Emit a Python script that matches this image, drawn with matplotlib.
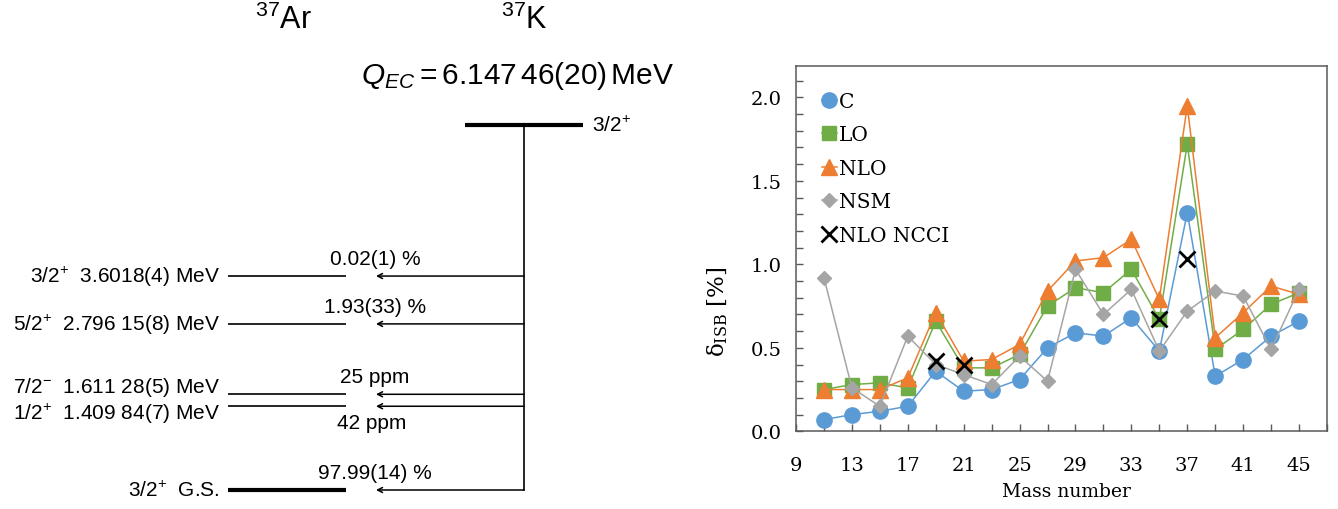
import matplotlib
matplotlib.use("Agg")
import matplotlib.pyplot as plt
from matplotlib.ticker import MultipleLocator, FixedLocator

# ---------------- data ----------------
# Left: 37K -> 37Ar decay scheme
parent_energy = 6.14746          # MeV (Q_EC)
parent_spin = "3/2$^{+}$"
level_energies = [3.6018, 2.79615, 1.61128, 1.40984, 0.0]
level_labels = ["3/2$^{+}$  3.6018(4) MeV",
                "5/2$^{+}$  2.796 15(8) MeV",
                "7/2$^{-}$  1.611 28(5) MeV",
                "1/2$^{+}$  1.409 84(7) MeV",
                "3/2$^{+}$  G.S."]
branch_labels = ["0.02(1) %", "1.93(33) %", "25 ppm", "42 ppm", "97.99(14) %"]

# Right: isospin-symmetry-breaking corrections
mass_number = [11, 13, 15, 17, 19, 21, 23, 25, 27, 29, 31, 33, 35, 37, 39, 41, 43, 45]
delta_C   = [0.07, 0.10, 0.12, 0.15, 0.36, 0.24, 0.25, 0.31, 0.50, 0.59, 0.57, 0.68, 0.48, 1.31, 0.33, 0.43, 0.57, 0.66]
delta_LO  = [0.25, 0.28, 0.29, 0.26, 0.66, 0.38, 0.38, 0.46, 0.75, 0.86, 0.83, 0.97, 0.67, 1.72, 0.49, 0.61, 0.76, 0.83]
delta_NLO = [0.25, 0.25, 0.25, 0.32, 0.71, 0.42, 0.43, 0.52, 0.84, 1.02, 1.04, 1.15, 0.79, 1.95, 0.56, 0.71, 0.87, 0.82]
delta_NSM = [0.92, 0.26, 0.15, 0.57, 0.40, 0.34, 0.28, 0.45, 0.30, 0.97, 0.70, 0.85, 0.48, 0.72, 0.84, 0.81, 0.49, 0.85]
ncci_mass = [19, 21, 35, 37]
delta_NCCI = [0.42, 0.40, 0.67, 1.03]

# ---------------- figure ----------------
W, H = 1338, 510
fig = plt.figure(figsize=(W / 100, H / 100), dpi=100)

plt.rcParams['mathtext.fontset'] = 'custom'
plt.rcParams['mathtext.rm'] = 'Liberation Sans'
plt.rcParams['mathtext.it'] = 'Liberation Sans:italic'
plt.rcParams['mathtext.bf'] = 'Liberation Sans:bold'

# ---- left: level scheme (x in layout units, y in MeV) ----
axL = fig.add_axes([0, 0, 690 / W, 1])
px_per_mev = 59.4
e_bottom = -(H - 491) / px_per_mev
e_top = 491 / px_per_mev
axL.set_xlim(0, 690)
axL.set_ylim(e_bottom, e_top)
axL.axis('off')
sans = 'Liberation Sans'

x_lvl0, x_lvl1 = 228, 346
x_arrow_tip = 376
x_vert = 524
x_par0, x_par1 = 465, 583

# titles
axL.text(283, e_top - 20 / px_per_mev, "$^{37}$Ar", ha='center', va='center',
         fontsize=22, family=sans)
axL.text(x_vert, e_top - 20 / px_per_mev, "$^{37}$K", ha='center', va='center',
         fontsize=22, family=sans)
axL.text(518, e_top - 76 / px_per_mev,
         r"$Q_{EC} = \mathrm{6.147\,46(20)\,MeV}$", ha='center', va='center',
         fontsize=21.5, family=sans)

# parent level
axL.plot([x_par0, x_par1], [parent_energy, parent_energy], color='black', lw=3.0,
         solid_capstyle='butt')
axL.text(592, parent_energy, parent_spin, ha='left', va='center', fontsize=15, family=sans)
axL.plot([x_vert, x_vert], [parent_energy, level_energies[-1]], color='black', lw=1.2)

label_shift = [0, 0, 8 / px_per_mev, -7 / px_per_mev, 0]
for i, (E, lab, br) in enumerate(zip(level_energies, level_labels, branch_labels)):
    lw = 3.0 if E == 0 else 1.2
    axL.plot([x_lvl0, x_lvl1], [E, E], color='black', lw=lw, solid_capstyle='butt')
    axL.text(220, E + label_shift[i], lab, ha='right', va='center', fontsize=15, family=sans)
    axL.annotate('', xy=(x_arrow_tip, E), xytext=(x_vert, E),
                 arrowprops=dict(arrowstyle='->,head_length=0.35,head_width=0.18',
                                 lw=1.1, color='black', shrinkA=0, shrinkB=0))
    if br == "42 ppm":
        axL.annotate(br, xy=(372, E), xytext=(0, -5), textcoords='offset points',
                     ha='center', va='top', fontsize=15, family=sans)
    else:
        axL.annotate(br, xy=(375, E), xytext=(0, 6), textcoords='offset points',
                     ha='center', va='bottom', fontsize=15, family=sans)

# ---- right: chart ----
serif = 'DejaVu Serif'
axR = fig.add_axes([796 / W, 1 - 432.3 / H, (1327 - 796) / W, (432.3 - 67.3) / H])
series = [
    (delta_C, 'C', '#5B9BD5', 'o', 11),
    (delta_LO, 'LO', '#70AD47', 's', 9.5),
    (delta_NLO, 'NLO', '#ED7D31', '^', 11),
    (delta_NSM, 'NSM', '#A5A5A5', 'D', 7.5),
]
for vals, lab, col, mk, ms in series:
    axR.plot(mass_number, vals, color=col, lw=1.1, marker=mk, markersize=ms,
             markerfacecolor=col, markeredgecolor=col, label=lab)
axR.plot(ncci_mass, delta_NCCI, linestyle='none', marker='x', color='black',
         markersize=11, markeredgewidth=2.0, label='NLO NCCI')

axR.set_xlim(9, 47)
axR.set_ylim(0, 2.186)
axR.xaxis.set_major_locator(FixedLocator(list(range(9, 46, 4))))
axR.xaxis.set_minor_locator(FixedLocator(list(range(11, 48, 4))))
axR.yaxis.set_major_locator(MultipleLocator(0.5))
axR.yaxis.set_minor_locator(MultipleLocator(0.1))
axR.tick_params(which='both', direction='in', length=5, width=1, color='#595959')
axR.tick_params(axis='y', which='major', pad=10)
axR.tick_params(axis='x', which='major', pad=18)
for s in axR.spines.values():
    s.set_color('#595959')
    s.set_linewidth(1.1)
axR.set_yticklabels([f"{v:.1f}" for v in axR.get_yticks()], fontsize=14, family=serif)
axR.set_xticklabels([str(v) for v in range(9, 46, 4)], fontsize=14, family=serif)
axR.set_xlabel("Mass number", fontsize=13.5, family=serif, labelpad=6)
axR.xaxis.set_label_coords(0.51, -0.14)
axR.set_ylabel(r"δ$_{\mathrm{ISB}}$ [%]", fontsize=16.5, family=serif,
               math_fontfamily='dejavuserif')
axR.yaxis.set_label_coords(-0.125, 0.33)

leg = axR.legend(loc='upper left', bbox_to_anchor=(0.027, 0.963), frameon=False,
                 prop={'family': serif, 'size': 14.5}, handlelength=0.7,
                 handletextpad=0.1, labelspacing=0.72, borderaxespad=0.2, numpoints=1)

fig.savefig("out.png", dpi=100)
